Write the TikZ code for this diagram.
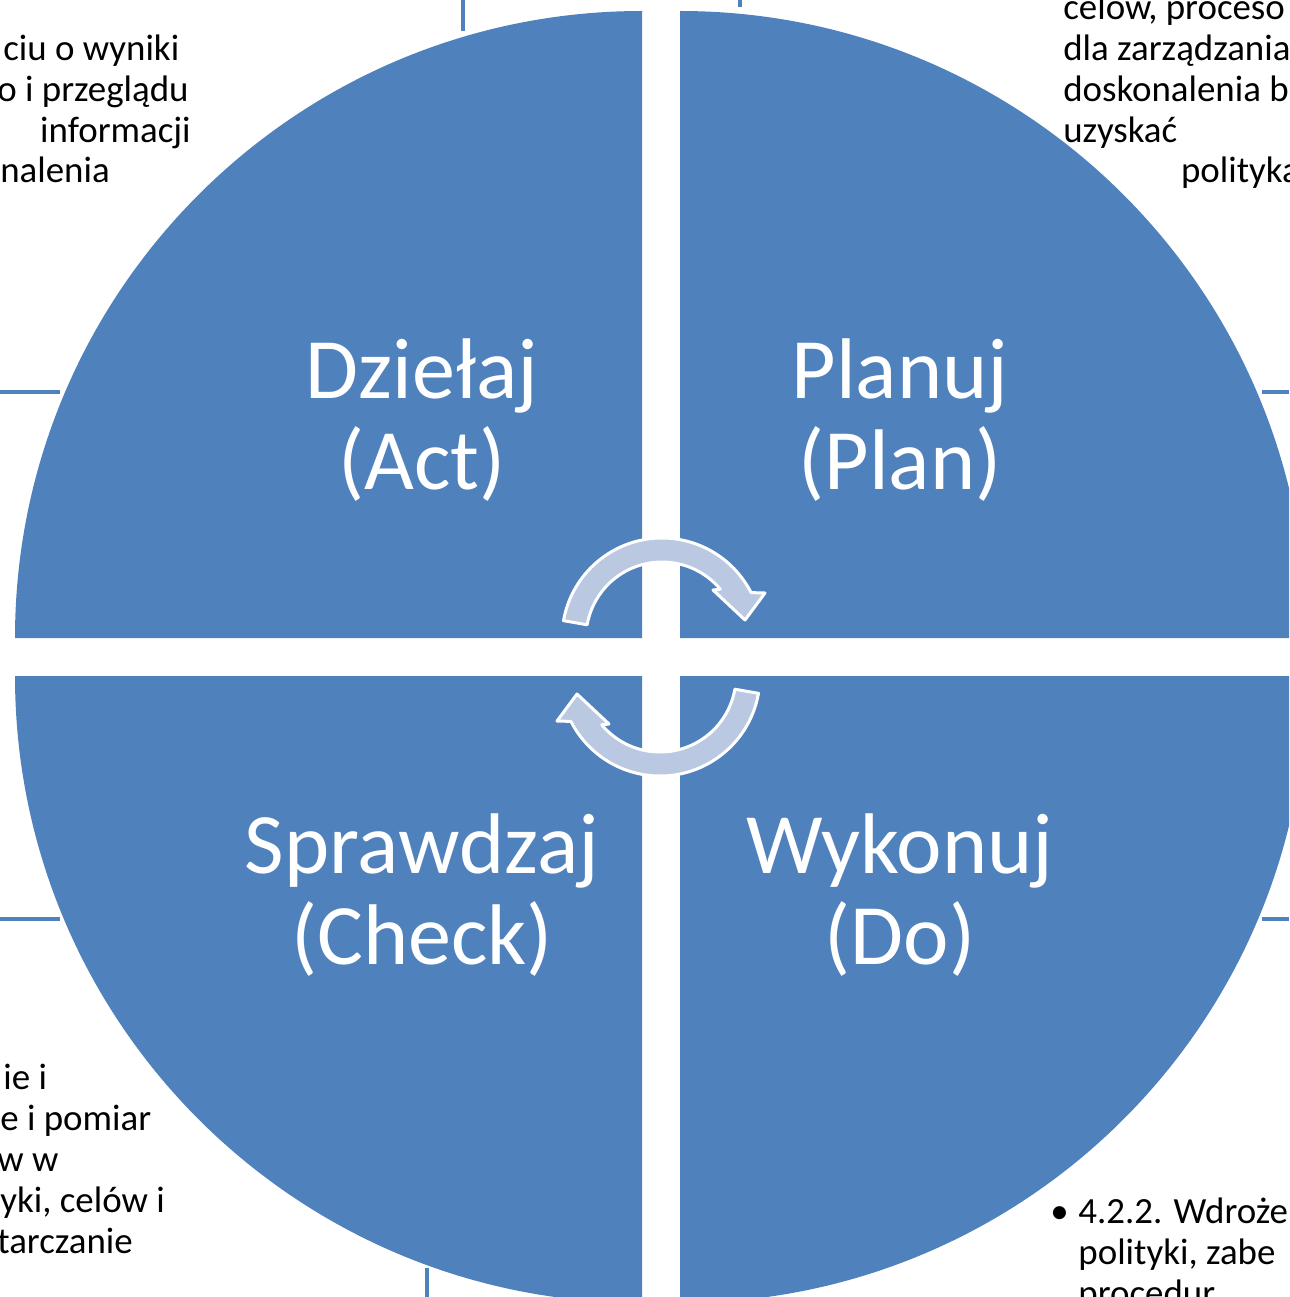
\documentclass[tikz,border=0pt]{standalone}
\usepackage{fontspec}
\setmainfont{Carlito}
\usetikzlibrary{positioning}
\definecolor{pdcablue}{RGB}{79,129,189}
\definecolor{pdcaarrow}{RGB}{186,200,226}

\begin{document}
\begin{tikzpicture}[
    x=0.02cm, y=0.02cm,
    quad/.style={fill=pdcablue},
    phase/.style={text=white, align=center, inner sep=0pt,
                  font=\fontsize{49}{52}\selectfont},
    note/.style={text=black, align=left, inner sep=0pt, anchor=base west,
                 font=\fontsize{21}{23.3}\selectfont},
    stub/.style={draw=pdcablue, line width=0.08cm},
    cyclearrow/.style={fill=pdcaarrow, draw=white, line width=0.06cm, line join=round}]
  \useasboundingbox (0,0) rectangle (1289,-1297);
  \clip (0,0) rectangle (1289,-1297);

  % quarters
  \fill[quad] (642,-638) -- (15,-638) arc[start angle=180, end angle=90, radius=627] -- cycle;
  \fill[quad] (680,-638) -- (680,-11) arc[start angle=90, end angle=0, radius=627] -- cycle;
  \fill[quad] (642,-676) -- (15,-676) arc[start angle=180, end angle=270, radius=627] -- cycle;
  \fill[quad] (680,-676) -- (1307,-676) arc[start angle=0, end angle=-90, radius=627] -- cycle;

  \node[phase] (act) at (422,-420) {Dziełaj\\(Act)};
  \node[phase] (plan) at (900,-420) {Planuj\\(Plan)};
  \node[phase] (check) at (422,-895) {Sprawdzaj\\(Check)};
  \node[phase] (do) at (900,-895) {Wykonuj\\(Do)};

  % cycle arrows
  \begin{scope}[shift={(662,-638)}]
    \filldraw[cyclearrow] (170:100) arc[start angle=170, end angle=27, radius=100]
      -- (103,45) -- (83,18) -- (51,48) -- (40:76)
      arc[start angle=40, end angle=170, radius=76] -- cycle;
  \end{scope}
  \begin{scope}[shift={(660,-676)}, rotate=180]
    \filldraw[cyclearrow] (170:100) arc[start angle=170, end angle=27, radius=100]
      -- (103,45) -- (83,18) -- (51,48) -- (40:76)
      arc[start angle=40, end angle=170, radius=76] -- cycle;
  \end{scope}

  \node[note] (actnote) at (0,-183) {\hspace*{1.7pt}ciu o wyniki\\\hspace*{-1.7pt}o i przeglądu\\\hspace*{22.7pt}informacji\\nalenia};
  \node[note] (plannote) at (1063,-183) {celów, proceso\\dla zarządzania\\doskonalenia b\\uzyskać\\\hspace*{67pt}polityka};
  \node[note] (checknote) at (0,-1253) {\hspace*{1.7pt}ie i\\e i pomiar\\\hspace*{-1.7pt}w w\\yki, celów i\\\hspace*{-1.7pt}tarczanie};
  \node[note] (donote) at (1050,-1305) {\makebox[16pt][l]{•}4.2.2. Wdroże\\\hspace*{16pt}polityki, zabe\\\hspace*{16pt}procedur};

  % links to the outer boxes
  \coordinate (ta1) at (463,0);   \coordinate (ta2) at (463,-31);
  \coordinate (tb1) at (740,0);   \coordinate (tb2) at (740,-7);
  \coordinate (la1) at (0,-392);  \coordinate (la2) at (60,-392);
  \coordinate (lb1) at (0,-919);  \coordinate (lb2) at (60,-919);
  \coordinate (ra1) at (1262,-392); \coordinate (ra2) at (1289,-392);
  \coordinate (rb1) at (1262,-919); \coordinate (rb2) at (1289,-919);
  \coordinate (ba1) at (427,-1268); \coordinate (ba2) at (427,-1297);
  \foreach \a/\b in {ta1/ta2, tb1/tb2, la1/la2, lb1/lb2, ra1/ra2, rb1/rb2, ba1/ba2}
    \draw[stub] (\a) -- (\b);
\end{tikzpicture}
\end{document}
